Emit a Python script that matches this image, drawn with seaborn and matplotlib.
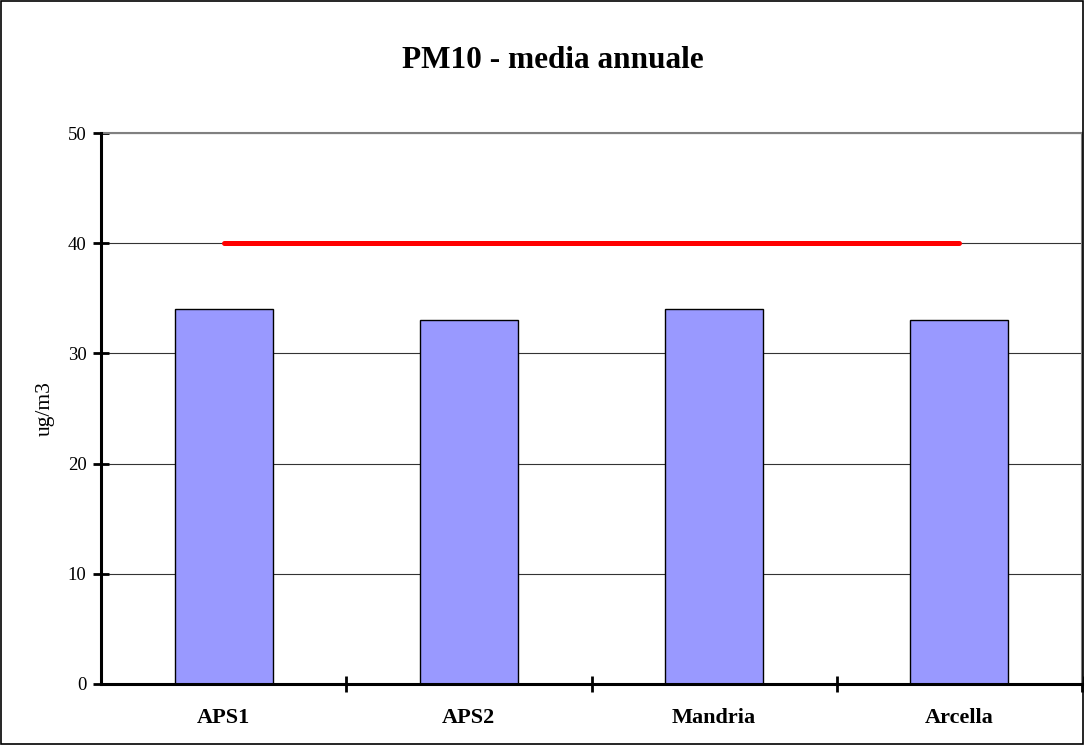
import matplotlib
matplotlib.use("Agg")
import matplotlib.pyplot as plt
import seaborn as sns
import numpy as np
from matplotlib.patches import Rectangle

categories = ["APS1", "APS2", "Mandria", "Arcella"]
values = [34, 33, 34, 33]
limit_values = [40, 40, 40, 40]
yticks = [0, 10, 20, 30, 40, 50]

sns.set_theme(style="white")
plt.rcParams["font.family"] = ["Liberation Serif", "DejaVu Serif"]
plt.rcParams["text.color"] = "black"
plt.rcParams["axes.labelcolor"] = "black"
plt.rcParams["xtick.color"] = "black"
plt.rcParams["ytick.color"] = "black"

fig = plt.figure(figsize=(10.85, 7.45), dpi=100)
ax = fig.add_axes([101/1085, 1-684/745, 981/1085, 551/745])

sns.barplot(x=categories, y=values, color="#9999FF", edgecolor="black",
            linewidth=1.0, width=0.4, saturation=1, ax=ax, zorder=3)
sns.lineplot(x=np.arange(len(categories)), y=limit_values, color="#FF0000",
             linewidth=3.6, ax=ax, zorder=4, solid_capstyle="round")

ax.set_xlim(-0.5, len(categories) - 0.5)
ax.set_ylim(0, 50)
ax.set_yticks(yticks)
ax.set_yticklabels([str(t) for t in yticks], fontsize=13.5)
ax.yaxis.grid(True, color="#333333", linewidth=0.8, zorder=0)
ax.set_axisbelow(True)

ax.set_xticks(np.arange(len(categories)) + 0.5)
ax.set_xticklabels([])
ax.set_xticks(np.arange(len(categories)), minor=True)
ax.set_xticklabels(categories, minor=True, fontsize=16, fontweight="bold")
ax.tick_params(axis="x", which="minor", length=0, pad=17, bottom=True)
ax.tick_params(axis="x", which="major", direction="inout", length=11, width=2.0,
               color="black", bottom=True)
ax.tick_params(axis="y", which="major", direction="inout", length=11, width=2.0,
               color="black", pad=5, left=True)
ax.set_xlabel("")
ax.set_ylabel("ug/m3", fontsize=15.5)
ax.yaxis.set_label_coords(-0.047, 0.5)

for s in ["left", "bottom"]:
    ax.spines[s].set_color("black")
    ax.spines[s].set_linewidth(2.2)
    ax.spines[s].set_zorder(5)
for s in ["top", "right"]:
    ax.spines[s].set_color("#808080")
    ax.spines[s].set_linewidth(1.5)

fig.text(553/1085, 1-61/745, "PM10 - media annuale", ha="center", va="center",
         fontsize=22.5, fontweight="bold")

fig.patches.append(Rectangle((0.0005, 0.0007), 0.998, 0.998, transform=fig.transFigure,
                             fill=False, edgecolor="black", linewidth=1.2))

fig.savefig("out.png", dpi=100)
